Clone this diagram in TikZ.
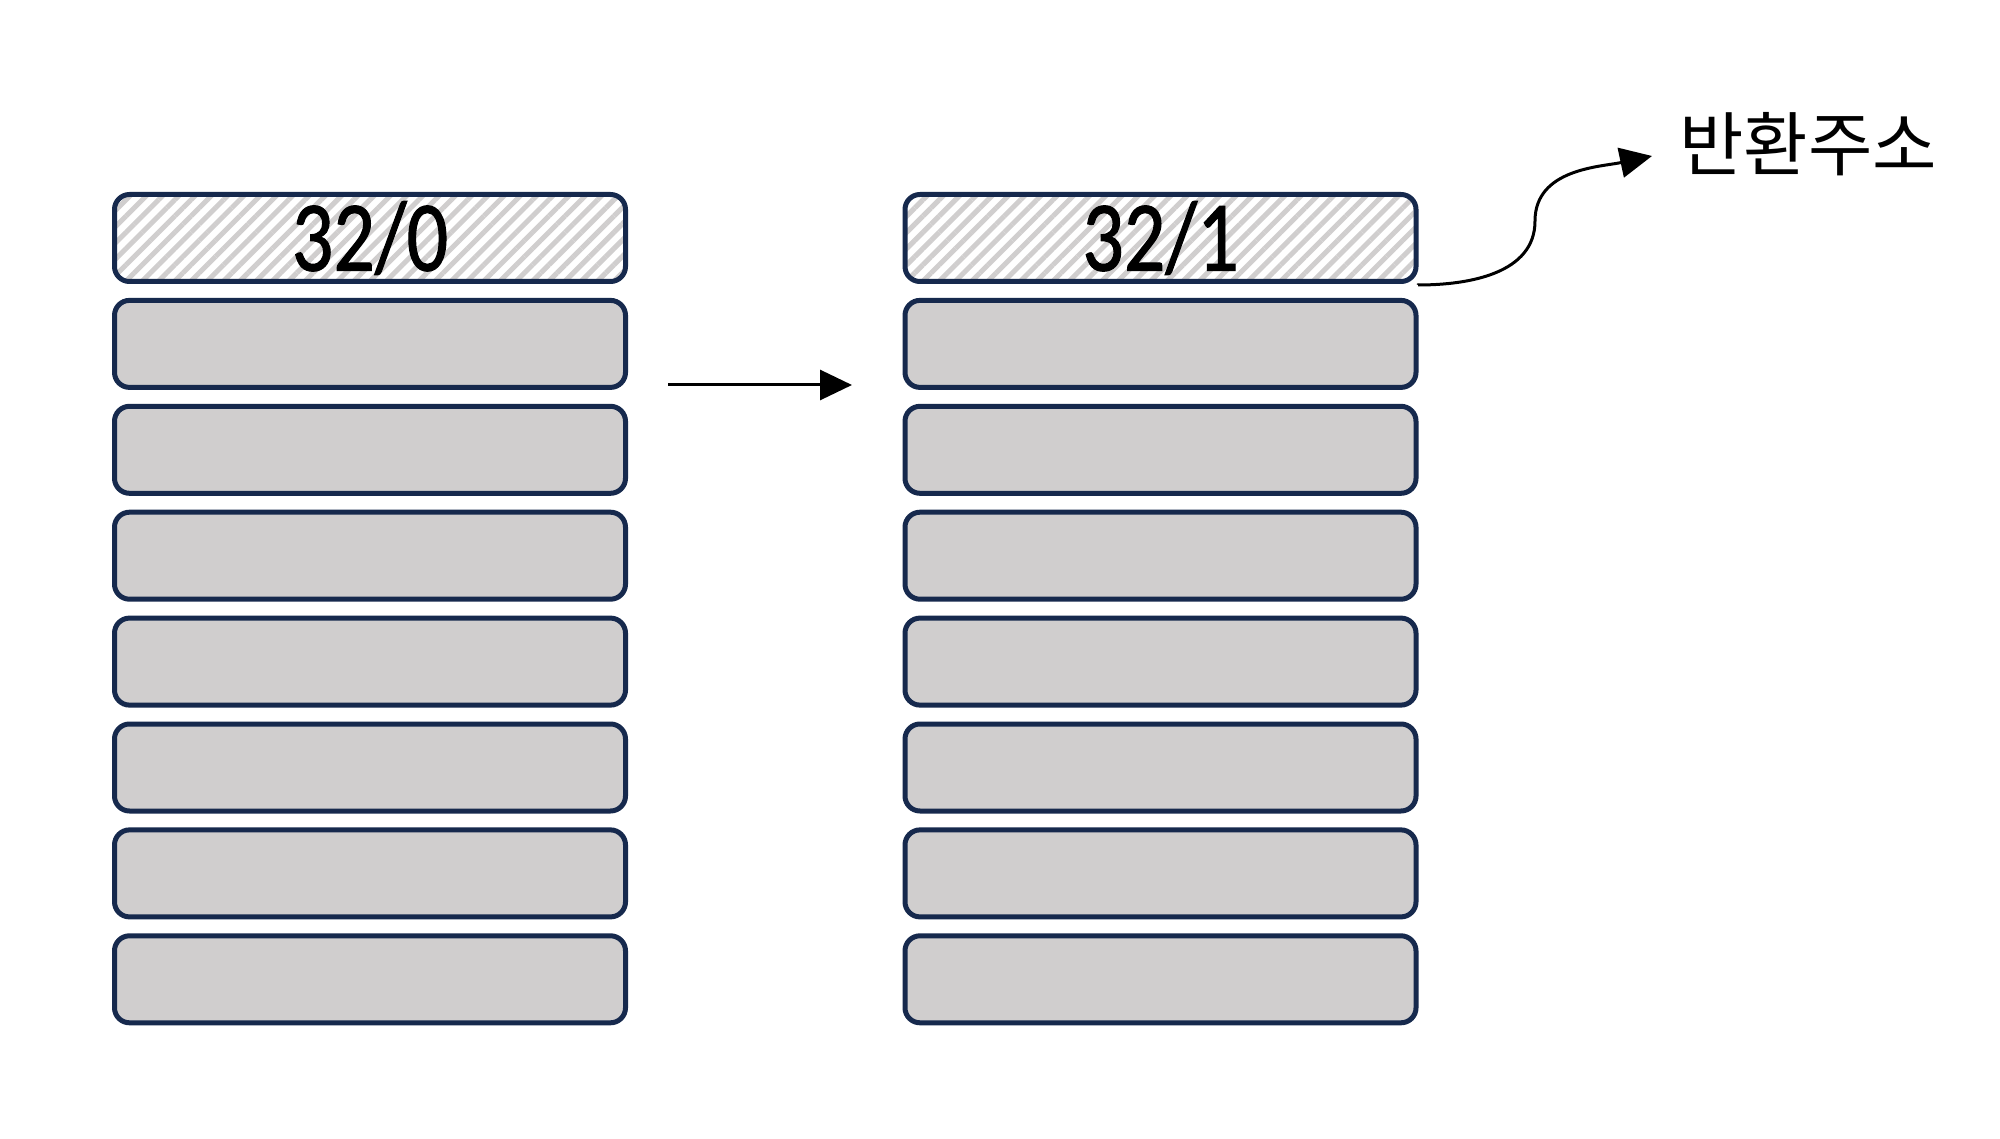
\documentclass[tikz,border=0pt]{standalone}
\usepackage{fontspec}
\setmainfont{Carlito}
\newfontfamily\numfont[FakeBold=1.2]{Carlito}
\newfontfamily\krfont{Noto Sans CJK KR}
\usetikzlibrary{patterns.meta,arrows.meta}
\definecolor{navy}{RGB}{22,41,77}
\definecolor{cellgray}{RGB}{208,206,206}
\begin{document}
\begin{tikzpicture}[x=1pt,y=-1pt,
  cell/.style={draw=navy,line width=5pt,rounded corners=15pt,minimum width=511pt,minimum height=87pt,inner sep=0pt,fill=cellgray},
  hatched/.style={cell,fill=none,pattern={Lines[angle=45,distance=11.5pt,line width=5pt]},pattern color=cellgray,font=\numfont\fontsize{100}{100}\selectfont},
  conn/.style={line width=3pt,-{Triangle[length=32pt,width=30pt]}},
  label/.style={anchor=west,inner sep=0pt,font=\krfont\fontsize{70}{70}\selectfont}]
\fill[white] (0,0) rectangle (2000,1139);
\node[hatched] (l1) at (370,238) {\scalebox{0.82}[1]{32/0}};
\node[hatched] (r1) at (1160.5,238) {\scalebox{0.82}[1]{32/1}};
\foreach \i in {2,...,8}{
  \node[cell] (l\i) at (370,{238+105.9*(\i-1)}) {};
  \node[cell] (r\i) at (1160.5,{238+105.9*(\i-1)}) {};
}
\coordinate (a1) at (668,385);
\coordinate (a2) at (852,385);
\draw[conn] (a1) -- (a2);
\node[label] (ret) at (1679,144) {반환주소};
\coordinate (start) at (1418,285);
\coordinate (bend) at (1535,221);
\coordinate (rt) at (1652,156);
\draw[line width=3pt] (r1.south east) -- (start);
\draw[conn] (start) to[out=0,in=-90] (bend) to[out=90,in=192] (rt);
\end{tikzpicture}
\end{document}
